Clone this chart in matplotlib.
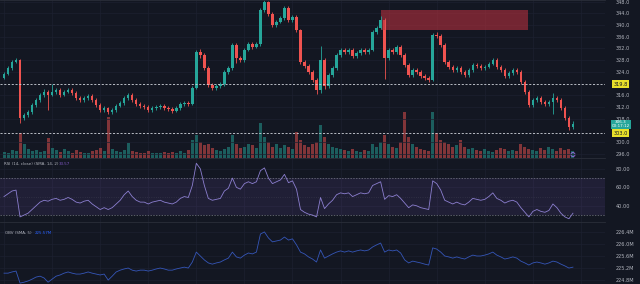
import numpy as np
import matplotlib
matplotlib.use("Agg")
import matplotlib.pyplot as plt
from matplotlib.patches import Rectangle

# ---- price data ----
opens = [322.0, 323.3, 325.3, 327.4, 328.0, 308.2, 309.2, 310.2, 312.6, 314.3,
         316.1, 317.1, 316.1, 317.1, 317.8, 316.1, 317.1, 317.8, 316.7, 315.0,
         314.3, 315.0, 315.7, 314.3, 312.6, 310.9, 311.6, 310.2, 310.9, 312.3,
         313.3, 315.0, 316.1, 314.3, 313.0, 312.3, 311.9, 310.9, 311.6, 311.9,
         312.3, 311.6, 311.3, 310.6, 311.6, 313.0, 313.3, 313.0, 318.5, 330.8,
         329.8, 325.3, 319.5, 318.5, 319.1, 319.8, 323.9, 325.3, 333.2, 328.7,
         328.0, 331.5, 333.5, 332.5, 333.5, 345.2, 347.9, 343.8, 340.0, 341.1,
         342.4, 345.9, 341.8, 342.8, 338.3, 327.4, 326.0, 323.9, 321.2, 317.8,
         328.0, 319.1, 322.9, 325.3, 329.8, 331.5, 330.8, 331.5, 329.4, 330.4,
         331.5, 330.8, 331.5, 337.6, 339.0, 341.8, 328.7, 331.5, 330.8, 332.5,
         329.8, 326.3, 322.9, 324.6, 323.9, 322.6, 321.9, 321.2, 336.6, 336.3,
         333.2, 327.4, 325.7, 324.6, 325.3, 323.9, 322.9, 324.6, 326.3, 326.0,
         325.3, 325.7, 326.7, 328.0, 325.7, 324.6, 322.6, 323.6, 324.6, 323.9,
         320.5, 317.1, 312.6, 314.3, 315.0, 313.7, 313.0, 313.7, 315.0, 314.3,
         311.6, 308.2, 305.1]
closes = [323.3, 325.3, 327.4, 328.0, 308.2, 309.2, 310.2, 312.6, 314.3, 316.1,
          317.1, 316.1, 317.1, 317.8, 316.1, 317.1, 317.8, 316.7, 315.0, 314.3,
          315.0, 315.7, 314.3, 312.6, 310.9, 311.6, 310.2, 310.9, 312.3, 313.3,
          315.0, 316.1, 314.3, 313.0, 312.3, 311.9, 310.9, 311.6, 311.9, 312.3,
          311.6, 311.3, 310.6, 311.6, 313.0, 313.3, 313.0, 318.5, 330.8, 329.8,
          325.3, 319.5, 318.5, 319.1, 319.8, 323.9, 325.3, 333.2, 328.7, 328.0,
          331.5, 333.5, 332.5, 333.5, 345.2, 347.9, 343.8, 340.0, 341.1, 342.4,
          345.9, 341.8, 342.8, 338.3, 327.4, 326.0, 323.9, 321.2, 317.8, 328.0,
          319.1, 322.9, 325.3, 329.8, 331.5, 330.8, 331.5, 329.4, 330.4, 331.5,
          330.8, 331.5, 337.6, 339.0, 341.8, 328.7, 331.5, 330.8, 332.5, 329.8,
          326.3, 322.9, 324.6, 323.9, 322.6, 321.9, 321.2, 336.6, 336.3, 333.2,
          327.4, 325.7, 324.6, 325.3, 323.9, 322.9, 324.6, 326.3, 326.0, 325.3,
          325.7, 326.7, 328.0, 325.7, 324.6, 322.6, 323.6, 324.6, 323.9, 320.5,
          317.1, 312.6, 314.3, 315.0, 313.7, 313.0, 313.7, 315.0, 314.3, 311.6,
          308.2, 305.1, 306.3]
highs = [324.0, 326.0, 328.2, 328.8, 328.5, 310.0, 311.0, 313.3, 315.0, 316.9,
         318.0, 317.8, 320.0, 318.6, 318.4, 317.9, 318.6, 318.4, 317.3, 315.7,
         315.8, 316.5, 316.3, 314.9, 313.2, 312.3, 312.1, 311.6, 313.0, 314.0,
         315.7, 316.9, 316.7, 314.9, 313.6, 312.9, 312.5, 312.3, 312.6, 313.0,
         312.9, 312.2, 311.9, 312.3, 313.7, 314.0, 314.0, 319.2, 331.6, 331.8,
         330.3, 325.9, 320.2, 319.9, 320.6, 324.6, 326.0, 334.0, 333.8, 329.4,
         332.3, 334.3, 334.1, 334.2, 346.0, 348.6, 348.3, 344.4, 341.9, 343.1,
         346.7, 346.4, 343.6, 343.3, 338.8, 328.0, 326.6, 324.5, 321.8, 333.0,
         328.6, 323.6, 326.0, 330.5, 332.3, 332.2, 332.2, 332.0, 331.2, 332.2,
         332.1, 332.2, 338.4, 339.8, 343.0, 342.3, 332.3, 332.1, 333.3, 333.1,
         330.4, 326.9, 325.3, 325.2, 324.5, 323.2, 322.5, 337.4, 337.6, 336.9,
         333.8, 328.0, 326.3, 326.0, 325.9, 324.5, 325.3, 327.0, 326.9, 326.6,
         326.4, 327.4, 328.8, 328.6, 326.3, 325.2, 324.3, 325.3, 325.2, 324.5,
         321.1, 317.7, 315.0, 315.8, 315.6, 314.3, 314.4, 316.6, 315.7, 314.9,
         312.2, 308.8, 307.2]
lows = [321.5, 322.8, 324.8, 326.9, 306.6, 307.5, 308.6, 309.7, 312.0, 313.8,
        315.5, 311.0, 315.6, 316.5, 315.4, 315.6, 316.6, 316.0, 314.4, 313.6,
        313.7, 314.5, 313.6, 312.0, 310.2, 310.3, 309.5, 309.6, 310.4, 311.8,
        312.8, 314.5, 313.7, 312.4, 311.7, 311.2, 310.2, 310.3, 311.0, 311.3,
        311.0, 310.7, 310.0, 310.1, 311.1, 312.4, 312.4, 312.5, 318.0, 328.9,
        324.6, 318.8, 317.8, 317.9, 318.5, 319.3, 323.3, 324.8, 327.0, 327.3,
        327.5, 331.0, 331.8, 332.0, 333.0, 344.6, 343.1, 339.2, 339.4, 340.6,
        341.9, 341.1, 341.2, 337.5, 326.7, 325.3, 323.2, 320.4, 316.4, 316.8,
        318.0, 318.6, 322.3, 324.8, 329.2, 330.1, 330.2, 328.7, 328.8, 329.8,
        330.1, 330.2, 331.0, 336.9, 338.5, 321.5, 328.0, 330.1, 330.2, 329.1,
        325.6, 322.1, 322.3, 323.2, 321.9, 321.2, 320.4, 320.7, 335.6, 332.5,
        326.7, 325.0, 323.9, 324.0, 323.2, 322.2, 322.4, 324.0, 325.4, 324.7,
        324.8, 325.2, 326.2, 325.0, 323.9, 321.9, 322.0, 323.0, 323.2, 319.8,
        316.3, 311.8, 312.0, 313.7, 313.0, 312.3, 312.4, 309.5, 313.6, 310.9,
        307.5, 304.2, 304.6]
volumes = [14, 12, 18, 16, 55, 30, 20, 15, 18, 14,
           16, 43, 22, 18, 14, 20, 16, 12, 18, 14,
           10, 12, 15, 18, 22, 16, 89, 20, 15, 14,
           18, 33, 16, 14, 12, 10, 15, 12, 10, 11,
           13, 12, 14, 10, 15, 12, 18, 40, 50, 35,
           28, 30, 22, 18, 15, 20, 25, 50, 30, 22,
           25, 30, 28, 22, 76, 45, 35, 25, 30, 22,
           28, 25, 20, 57, 40, 28, 25, 30, 35, 72,
           45, 30, 25, 22, 20, 18, 15, 20, 16, 14,
           18, 15, 30, 25, 35, 50, 30, 25, 22, 35,
           100, 45, 30, 25, 20, 18, 15, 100, 55, 40,
           35, 30, 25, 28, 40, 25, 20, 22, 18, 15,
           20, 16, 14, 18, 22, 20, 15, 18, 16, 30,
           25, 20, 18, 15, 22, 18, 25, 20, 16, 22,
           18, 20, 15]
rsi = [50, 53, 56, 57, 28, 30, 32, 36, 40, 44,
       46, 45, 47, 48, 46, 47, 49, 47, 44, 43,
       45, 46, 42, 39, 36, 38, 36, 38, 42, 46,
       52, 56, 50, 46, 44, 44, 42, 44, 45, 46,
       44, 43, 42, 44, 48, 50, 49, 62, 86, 80,
       62, 48, 46, 47, 48, 56, 59, 70, 60, 58,
       64, 66, 64, 66, 78, 81, 70, 64, 66, 68,
       74, 65, 67, 58, 36, 33, 31, 30, 28, 49,
       37, 42, 46, 52, 54, 53, 54, 50, 52, 54,
       53, 54, 62, 64, 66, 47, 51, 50, 52, 48,
       43, 38, 41, 40, 38, 37, 36, 67, 64, 57,
       46, 44, 42, 44, 42, 41, 44, 48, 47, 46,
       47, 50, 54, 48, 46, 43, 45, 46, 44, 38,
       33, 28, 34, 36, 34, 33, 35, 42, 38, 32,
       28, 26, 32]
obv = [225.02, 225.02, 225.06, 225.09, 224.69, 224.72, 224.76, 224.82, 224.89, 224.92,
       224.86, 224.72, 224.82, 224.92, 224.96, 225.02, 225.06, 225.02, 224.99, 224.99,
       225.02, 225.06, 225.02, 224.99, 224.96, 224.99, 224.79, 224.92, 225.06, 225.12,
       225.16, 225.19, 225.12, 225.09, 225.12, 225.12, 225.09, 225.12, 225.16, 225.19,
       225.16, 225.12, 225.12, 225.16, 225.19, 225.22, 225.19, 225.39, 225.72, 225.59,
       225.46, 225.36, 225.32, 225.36, 225.39, 225.46, 225.52, 225.72, 225.56, 225.52,
       225.62, 225.69, 225.66, 225.72, 226.32, 226.39, 226.19, 226.06, 226.09, 226.12,
       226.22, 226.12, 226.16, 225.96, 225.72, 225.66, 225.56, 225.49, 225.39, 225.79,
       225.52, 225.59, 225.66, 225.72, 225.76, 225.72, 225.76, 225.72, 225.76, 225.79,
       225.76, 225.79, 225.89, 225.96, 226.02, 225.72, 225.79, 225.76, 225.79, 225.69,
       225.46, 225.36, 225.42, 225.39, 225.36, 225.32, 225.29, 225.86, 225.82, 225.72,
       225.59, 225.56, 225.52, 225.56, 225.52, 225.49, 225.56, 225.62, 225.59, 225.59,
       225.62, 225.66, 225.72, 225.62, 225.56, 225.49, 225.52, 225.56, 225.52, 225.42,
       225.36, 225.29, 225.36, 225.39, 225.36, 225.32, 225.36, 225.42, 225.39, 225.32,
       225.26, 225.19, 225.22]

price_ticks = [296, 300, 308, 312, 316, 324, 328, 332, 336, 340, 344, 348]
rsi_ticks = [40, 60, 80]
obv_ticks = [224.8, 225.2, 225.6, 226.0, 226.4]
line_high = 319.8
line_low = 303.0
zone = (94, 130.8, 338.3, 345.2)   # x0, x1, y0, y1

BG = "#131722"
GRID = "#1c2030"
TXT = "#b2b5be"
UP = "#26a69a"
DN = "#ef5350"

n = len(closes)
x = np.arange(n)
o = np.array(opens)
c = np.array(closes)
up = c >= o
col = np.where(up, UP, DN)

fig = plt.figure(figsize=(6.4, 2.84), dpi=100, facecolor=BG)
W = 605 / 640
main_rect = [0, 1 - 158 / 284, W, 158 / 284]

# volume sits on its own axes behind the candles
axv = fig.add_axes(main_rect)
axv.set_facecolor(BG)
axv.set_xlim(-1, 150)
axv.set_ylim(0, 345)
for s in axv.spines.values():
    s.set_visible(False)
axv.set_xticks(np.arange(0, 150, 12))
axv.set_yticks([])
axv.tick_params(length=0, labelbottom=False, labelleft=False)
axv.grid(True, axis="x", color=GRID, linewidth=0.5)
axv.set_axisbelow(True)
axv.bar(x, volumes, width=0.75, color=col, alpha=0.5, linewidth=0)
axv.scatter([n - 1], [volumes[-1] * 0.5], s=9, facecolors="none",
            edgecolors="#9c6ade", linewidths=0.6)

ax = fig.add_axes(main_rect)
ax_r = fig.add_axes([0, 1 - 222 / 284, W, 64 / 284])
ax_o = fig.add_axes([0, 0, W, 62 / 284])

for a in (ax, ax_r, ax_o):
    a.set_facecolor(BG)
    a.set_xlim(-1, 150)
    for s in a.spines.values():
        s.set_visible(False)
    a.spines["top"].set_visible(True)
    a.spines["top"].set_color("#2a2e39")
    a.spines["top"].set_linewidth(0.6)
    a.yaxis.tick_right()
    a.tick_params(axis="y", length=0, labelsize=3.6, labelcolor=TXT, pad=8)
    a.tick_params(axis="x", length=0, labelbottom=False)
    a.set_xticks(np.arange(0, 150, 12))
    a.grid(True, color=GRID, linewidth=0.5)
    a.set_axisbelow(True)
ax.patch.set_visible(False)
ax.grid(True, axis="y", color=GRID, linewidth=0.5)
ax.grid(False, axis="x")

# candles
ax.vlines(x, lows, highs, colors=col, linewidth=0.6)
body_lo = np.minimum(o, c)
body_h = np.maximum(np.abs(c - o), 0.25)
ax.bar(x, body_h, bottom=body_lo, width=0.62, color=col, linewidth=0)
ax.set_ylim(294.5, 348.6)
ax.set_yticks(price_ticks)
ax.set_yticklabels([f"{t:.1f}" for t in price_ticks])

ax.add_patch(Rectangle((zone[0], zone[2]), zone[1] - zone[0], zone[3] - zone[2],
                       facecolor="#b5303d", alpha=0.6, linewidth=0))
for lv in (line_high, line_low):
    ax.axhline(lv, color="#d1d4dc", linewidth=0.6, linestyle=(0, (2.5, 2)))

lbl = dict(transform=ax.get_yaxis_transform(), ha="center", va="center",
           clip_on=False)
ax.text(1.026, line_high, f"{line_high:.1f}", color="#131722", fontsize=3.6,
        bbox=dict(boxstyle="square,pad=0.25", fc="#e8e02a", ec="none"), **lbl)
ax.text(1.026, line_low, f"{line_low:.1f}", color="#131722", fontsize=3.6,
        bbox=dict(boxstyle="square,pad=0.25", fc="#e8e02a", ec="none"), **lbl)
ax.text(1.026, closes[-1] - 0.3, f"{closes[-1]:.1f}\n00:17:12", color="white",
        fontsize=3.0, linespacing=1.0,
        bbox=dict(boxstyle="square,pad=0.2", fc=UP, ec="none"), **lbl)

# RSI
ax_r.set_ylim(22.5, 91.7)
ax_r.axhspan(30, 70, color="#7e57c2", alpha=0.13, linewidth=0)
for lv in (70, 30):
    ax_r.axhline(lv, color="#787b86", linewidth=0.5, linestyle=(0, (2, 2)))
ax_r.axhline(50, color="#787b86", linewidth=0.4, linestyle=(0, (1, 3)), alpha=0.5)
ax_r.plot(x, rsi, color="#8c7fd0", linewidth=0.6)
ax_r.set_yticks(rsi_ticks)
ax_r.set_yticklabels([f"{t:.2f}" for t in rsi_ticks])
ax_r.text(0.006, 0.93, "RSI (14, close) (SMA, 14, 2)", transform=ax_r.transAxes,
          fontsize=2.9, color=TXT, va="top")
ax_r.text(0.097, 0.93, f"{33.57:.2f}", transform=ax_r.transAxes,
          fontsize=2.9, color="#7e57c2", va="top")

# OBV
ax_o.set_ylim(224.66, 226.72)
ax_o.plot(x, obv, color="#3556b8", linewidth=0.6)
ax_o.set_yticks(obv_ticks)
ax_o.set_yticklabels([f"{t:.1f}M" for t in obv_ticks])
ax_o.text(0.008, 0.86, "OBV (SMA, 5)", transform=ax_o.transAxes,
          fontsize=2.9, color=TXT, va="top")
ax_o.text(0.058, 0.86, "225.57M", transform=ax_o.transAxes,
          fontsize=2.9, color="#2962ff", va="top")

fig.savefig("out.png", dpi=100, facecolor=BG)
